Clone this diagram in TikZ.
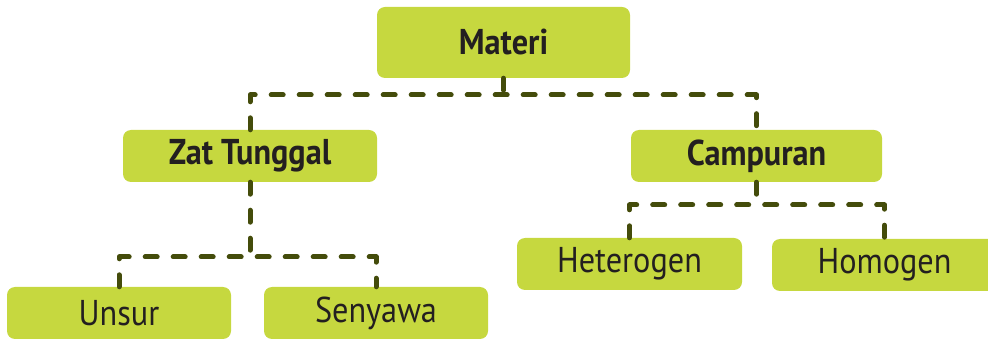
\documentclass[tikz,border=0pt]{standalone}
\usepackage{fontspec}
\setmainfont{PT Sans}[FakeStretch=0.9]
\definecolor{boxgreen}{HTML}{C6D83F}
\definecolor{linkcol}{HTML}{444C0B}
\definecolor{textcol}{HTML}{231F20}
\begin{document}
\begin{tikzpicture}[line join=round,
  box/.style={fill=boxgreen,rounded corners=8bp,minimum height=52bp,minimum width=225bp,inner sep=0pt,text=textcol,font=\fontsize{36}{38}\selectfont},
  head/.style={box,font=\fontsize{36}{38}\selectfont\bfseries},
  link/.style={draw=linkcol,line width=5bp,line cap=round,dash pattern=on 12bp off 16bp},
]
\useasboundingbox (0bp,0bp) rectangle (988bp,340bp);
%%
\node (materi) at (503.5bp,297.5bp) [head,minimum width=253bp,minimum height=71bp] {Materi};
  \node (zat) at (250.0bp,184.0bp) [head,minimum width=254bp] {Zat Tunggal};
  \node (campuran) at (756.5bp,184.0bp) [head,minimum width=251bp] {Campuran};
  \node (unsur) at (119.0bp,27.0bp) [box,minimum width=224bp] {Unsur};
  \node (senyawa) at (376.0bp,27.0bp) [box,minimum width=224bp] {Senyawa};
  \node (hetero) at (629.5bp,76.0bp) [box] {Heterogen};
  \node (homo) at (884.5bp,75.0bp) [box] {Homogen};
  \coordinate (bar1) at (503.5bp,245.0bp);
  \coordinate (bar2) at (250.0bp,83.0bp);
  \coordinate (bar3) at (756.5bp,135.0bp);
  \draw [link] (materi.south) -- (bar1);
  \draw [link] (zat.north) |- (bar1) -| (campuran.north);
  \draw [link] (zat.south) -- (bar2);
  \draw [link] (unsur.north) |- (bar2) -| (senyawa.north);
  \draw [link] (campuran.south) -- (bar3);
  \draw [link] (hetero.north) |- (bar3) -| (homo.north);
%
\end{tikzpicture}
\end{document}
